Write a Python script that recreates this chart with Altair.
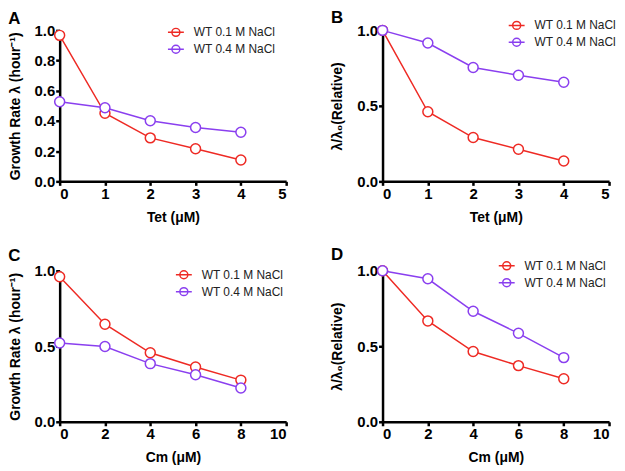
import altair as alt
import pandas as pd

series = ["WT 0.1 M NaCl", "WT 0.4 M NaCl"]
colors = ["#EE2A24", "#8A3FEF"]

tet = [0, 1, 2, 3, 4]
cm = [0, 2, 4, 6, 8]

a_01 = [0.967, 0.451, 0.288, 0.216, 0.142]
a_04 = [0.527, 0.488, 0.401, 0.357, 0.325]
b_01 = [1.0, 0.461, 0.290, 0.213, 0.135]
b_04 = [1.0, 0.916, 0.754, 0.703, 0.656]
c_01 = [0.961, 0.646, 0.457, 0.363, 0.276]
c_04 = [0.522, 0.498, 0.385, 0.311, 0.224]
d_01 = [1.0, 0.668, 0.465, 0.372, 0.285]
d_04 = [1.0, 0.947, 0.732, 0.586, 0.425]

tet_ticks = [0, 1, 2, 3, 4, 5]
cm_ticks = [0, 2, 4, 6, 8, 10]
y_ticks_fine = [0, 0.2, 0.4, 0.6, 0.8, 1.0]
y_ticks_coarse = [0, 0.5, 1.0]

FONT = "Liberation Sans"
SYMBOL = "M-1,0H1M0.5,0A0.5,0.5,0,1,1,-0.5,0A0.5,0.5,0,1,1,0.5,0"


def panel(label, xs, s1, s2, xmax, xticks, xtitle, ytitle, yticks, lx, ly, toff):
    df = pd.DataFrame({
        "x": xs + xs,
        "y": s1 + s2,
        "s": [series[0]] * len(xs) + [series[1]] * len(xs),
    })
    stroke = alt.Stroke(
        "s:N",
        scale=alt.Scale(domain=series, range=colors),
        legend=alt.Legend(
            title=None, orient="none", legendX=lx, legendY=ly,
            symbolType=SYMBOL, symbolSize=256, symbolStrokeWidth=1.5,
            symbolFillColor="white",
            labelFont=FONT, labelFontSize=12, labelColor="#222",
            rowPadding=1, labelOffset=9,
        ),
    )
    x = alt.X("x:Q", title=xtitle,
              scale=alt.Scale(domain=[0, xmax], nice=False),
              axis=alt.Axis(values=xticks, format="d"))
    y = alt.Y("y:Q", title=ytitle,
              scale=alt.Scale(domain=[0, 1], nice=False),
              axis=alt.Axis(values=yticks, format=".1f"))
    base = alt.Chart(df)
    line = base.mark_line(strokeWidth=1.5).encode(x=x, y=y, stroke=stroke)
    pts = base.mark_point(shape="circle", filled=False, fill="white",
                          size=100, strokeWidth=1.5, opacity=1).encode(
        x=x, y=y, stroke=stroke)
    return alt.layer(line, pts).properties(
        width=228, height=152,
        title=alt.TitleParams(label, anchor="start", frame="bounds",
                              fontSize=17, font=FONT, fontWeight="bold",
                              offset=toff, color="black"),
    )


pa = panel("A", tet, a_01, a_04, 5, tet_ticks, "Tet (μM)",
           "Growth Rate λ (hour⁻¹)", y_ticks_fine, 108, -7, -5)
pb = panel("B", tet, b_01, b_04, 5, tet_ticks, "Tet (μM)",
           "λ/λ₀(Relative)", y_ticks_coarse, 126, -14, -11)
pc = panel("C", cm, c_01, c_04, 10, cm_ticks, "Cm (μM)",
           "Growth Rate λ (hour⁻¹)", y_ticks_coarse, 116, -5, -1)
pd_ = panel("D", cm, d_01, d_04, 10, cm_ticks, "Cm (μM)",
            "λ/λ₀(Relative)", y_ticks_coarse, 116, -14, -7)

row1 = alt.hconcat(pa, pb, spacing=43).resolve_scale(stroke="independent").resolve_legend(stroke="independent")
row2 = alt.hconcat(pc, pd_, spacing=43).resolve_scale(stroke="independent").resolve_legend(stroke="independent")

chart = alt.vconcat(row1, row2, spacing=22).resolve_scale(
    stroke="independent").resolve_legend(stroke="independent").properties(
    padding=0).configure_view(stroke=None).configure_axis(
    grid=False,
    domainColor="black", domainWidth=2.5,
    tickColor="black", tickWidth=2.5, tickSize=4,
    labelFont=FONT, labelFontWeight="bold", labelFontSize=15,
    labelColor="black", labelPadding=1,
    titleFont=FONT, titleFontWeight="bold", titleFontSize=14,
    titleColor="black",
).configure_axisX(titlePadding=9).configure_axisY(titlePadding=12)

chart.save("out.html", embed_options={"renderer": "svg", "actions": False})
